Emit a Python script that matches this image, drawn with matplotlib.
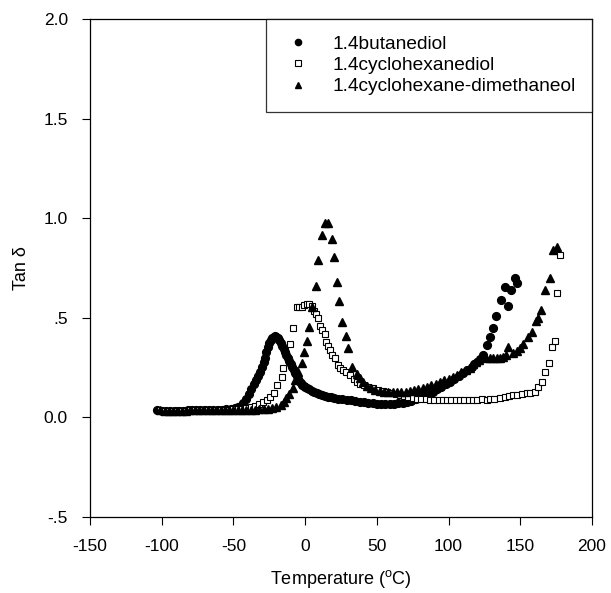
import matplotlib
matplotlib.use("Agg")
import matplotlib.pyplot as plt

plt.rcParams['font.family'] = ['Liberation Sans', 'DejaVu Sans']
plt.rcParams['mathtext.fontset'] = 'custom'
plt.rcParams['mathtext.rm'] = 'Liberation Sans'
plt.rcParams['axes.unicode_minus'] = False

# 1.4butanediol (filled circles)
butane_t = [-103, -100, -97, -94, -91, -88, -85, -82, -79, -76, -73, -70, -67, -64, -61,
            -58, -55, -52, -49, -47, -45, -43, -41, -39, -37.5, -36, -34.5, -33, -31.5,
            -30, -29, -28, -27, -26, -25, -24, -23, -22, -21, -20, -19, -18, -17, -16,
            -15, -14, -13, -12, -11, -10, -9, -8, -7, -6, -5, -4, -3, -2, -1, 0, 1.5, 3,
            4.5, 6, 8, 10, 12, 14, 16, 18, 20, 23, 26, 29, 32, 35, 38, 41, 44, 47, 50,
            53, 56, 59, 62, 65, 68, 71, 74, 77, 80, 83, 86, 89, 92, 95, 98, 101, 104,
            107, 110, 113, 116, 118, 120, 122, 124, 126.8, 128.6, 131, 133.3, 136.8,
            139.2, 141.4, 143.8, 146.3, 147.5]
butane_tan = [0.037, 0.033, 0.031, 0.031, 0.032, 0.033, 0.034, 0.035, 0.036, 0.037, 0.038,
              0.038, 0.037, 0.037, 0.038, 0.039, 0.040, 0.042, 0.045, 0.050, 0.058, 0.070,
              0.090, 0.115, 0.145, 0.170, 0.190, 0.210, 0.230, 0.255, 0.280, 0.300, 0.330,
              0.355, 0.375, 0.390, 0.400, 0.405, 0.410, 0.405, 0.400, 0.390, 0.375, 0.360,
              0.345, 0.330, 0.315, 0.300, 0.285, 0.270, 0.255, 0.240, 0.225, 0.210, 0.195,
              0.185, 0.175, 0.165, 0.160, 0.155, 0.148, 0.142, 0.135, 0.130, 0.123, 0.117,
              0.112, 0.107, 0.103, 0.100, 0.097, 0.094, 0.091, 0.088, 0.085, 0.082, 0.079,
              0.076, 0.073, 0.071, 0.069, 0.068, 0.067, 0.067, 0.068, 0.070, 0.073, 0.078,
              0.084, 0.092, 0.100, 0.110, 0.120, 0.130, 0.142, 0.155, 0.168, 0.180, 0.195,
              0.210, 0.225, 0.240, 0.255, 0.268, 0.280, 0.295, 0.315, 0.363, 0.405, 0.450,
              0.509, 0.589, 0.653, 0.559, 0.640, 0.698, 0.677]

# 1.4cyclohexanediol (open squares)
hexdiol_t = [-101, -98, -95, -92, -89, -86, -83, -80, -77, -74, -71, -68, -65, -62, -59,
             -56, -53, -50, -47, -44, -41, -38, -35, -32, -29.5, -26.8, -24.5, -22, -19.9,
             -16.4, -15.2, -10.6, -8.3, -6, -4, -2.5, -1, 1, 2.5, 4.6, 6.2, 7.5, 9.2, 10.3,
             12, 13.8, 14.5, 16, 17.3, 19, 20.8, 23, 24.5, 26.5, 28.5, 31.2, 34, 36, 38.2,
             41, 44, 47.5, 51, 54, 57, 60, 63, 66, 69, 72, 75, 78, 81, 84, 87, 90, 93, 96,
             99, 102, 105, 108, 111, 114, 117, 120, 123, 126.5, 129, 132, 135.8, 139, 142,
             145, 148, 151, 154.4, 157, 160.2, 162.6, 164.9, 167.2, 170.2, 171.9, 174.2,
             175.8, 177.7]
hexdiol_tan = [0.035, 0.032, 0.031, 0.031, 0.032, 0.033, 0.034, 0.035, 0.036, 0.036, 0.036,
               0.036, 0.036, 0.037, 0.037, 0.038, 0.039, 0.040, 0.041, 0.043, 0.046, 0.050,
               0.055, 0.065, 0.077, 0.087, 0.100, 0.120, 0.163, 0.205, 0.250, 0.370, 0.447,
               0.553, 0.556, 0.556, 0.565, 0.570, 0.570, 0.560, 0.535, 0.520, 0.500, 0.460,
               0.440, 0.418, 0.380, 0.360, 0.338, 0.315, 0.296, 0.263, 0.250, 0.238, 0.228,
               0.213, 0.195, 0.180, 0.170, 0.162, 0.155, 0.146, 0.140, 0.134, 0.128, 0.122,
               0.116, 0.110, 0.105, 0.100, 0.097, 0.094, 0.092, 0.090, 0.088, 0.087, 0.087,
               0.087, 0.087, 0.087, 0.087, 0.087, 0.087, 0.087, 0.087, 0.088, 0.090, 0.087,
               0.090, 0.093, 0.096, 0.100, 0.105, 0.112, 0.112, 0.115, 0.120, 0.125, 0.129,
               0.154, 0.180, 0.230, 0.272, 0.355, 0.384, 0.626, 0.815]

# 1.4cyclohexane-dimethaneol (filled triangles)
dimeth_t = [-101, -98, -95, -92, -89, -86, -83, -80, -77, -74, -71, -68, -65, -62, -59,
            -56, -53, -50, -47, -44, -41, -38, -35, -32, -29, -26, -23, -20, -17, -15,
            -13, -11, -8.7, -7, -5, -2.5, -0.9, 1.5, 2.8, 4.5, 7.3, 9.2, 12.1, 13.8, 15.6,
            18.4, 20.2, 22.4, 23.8, 26, 28.4, 30, 32.4, 35.9, 38, 40, 43, 46, 49, 52, 55,
            58, 61, 64, 67, 70, 73, 76, 79, 82, 85, 88, 91, 94, 97, 100, 103, 106, 109,
            112, 115, 117, 119, 121, 124.1, 126, 128.8, 131, 133.5, 136, 138, 140, 141.6,
            145, 147.5, 149.8, 152, 155.6, 157.9, 160.9, 162.5, 164.2, 167.2, 170.7, 172.5,
            175.3]
dimeth_tan = [0.035, 0.032, 0.031, 0.031, 0.032, 0.033, 0.034, 0.035, 0.035, 0.036, 0.036,
              0.036, 0.036, 0.036, 0.036, 0.036, 0.036, 0.037, 0.037, 0.037, 0.038, 0.038,
              0.039, 0.040, 0.041, 0.043, 0.046, 0.052, 0.062, 0.075, 0.095, 0.118, 0.150,
              0.190, 0.230, 0.275, 0.330, 0.385, 0.455, 0.556, 0.660, 0.790, 0.916, 0.974,
              0.974, 0.896, 0.803, 0.680, 0.586, 0.480, 0.410, 0.347, 0.255, 0.220, 0.200,
              0.180, 0.160, 0.150, 0.140, 0.135, 0.130, 0.128, 0.127, 0.127, 0.128, 0.130,
              0.133, 0.137, 0.142, 0.148, 0.155, 0.162, 0.170, 0.178, 0.186, 0.195, 0.205,
              0.215, 0.228, 0.240, 0.250, 0.270, 0.280, 0.290, 0.305, 0.300, 0.296, 0.296,
              0.296, 0.300, 0.305, 0.315, 0.355, 0.322, 0.335, 0.347, 0.370, 0.405, 0.430,
              0.485, 0.500, 0.539, 0.640, 0.698, 0.840, 0.854]

x_ticks = [-150, -100, -50, 0, 50, 100, 150, 200]
y_ticks = [-0.5, 0.0, 0.5, 1.0, 1.5, 2.0]
y_tick_labels = ['-.5', '0.0', '.5', '1.0', '1.5', '2.0']

fig = plt.figure(figsize=(6.11, 5.93), dpi=100, facecolor='white')
ax = fig.add_axes([90 / 611, 1 - 517 / 593, 502 / 611, 498 / 593])

ax.plot(butane_t, butane_tan, 'o', color='black', markersize=5.6, linestyle='none',
        label='1.4butanediol')
ax.plot(hexdiol_t, hexdiol_tan, 's', markerfacecolor='white', markeredgecolor='black',
        markeredgewidth=0.8, markersize=5.0, linestyle='none', label='1.4cyclohexanediol')
ax.plot(dimeth_t, dimeth_tan, '^', color='black', markersize=5.6, linestyle='none',
        label='1.4cyclohexane-dimethaneol')

ax.set_xlim(-150, 200)
ax.set_ylim(-0.5, 2.0)
ax.set_xticks(x_ticks)
ax.set_yticks(y_ticks)
ax.set_yticklabels(y_tick_labels)
ax.tick_params(direction='out', length=6, width=0.8, labelsize=12.5, pad=10)

for sp in ax.spines.values():
    sp.set_linewidth(0.9)

ax.set_xlabel('Temperature ($^{\\rm o}$C)', fontsize=13, labelpad=10)
ax.set_ylabel('Tan δ', fontsize=13, labelpad=10)

leg = ax.legend(loc='upper right', bbox_to_anchor=(1.0, 1.0), borderaxespad=0,
                fontsize=13.8, frameon=True, fancybox=False, edgecolor='black',
                handlelength=1.6, handletextpad=1.0, borderpad=0.85, labelspacing=0.2,
                markerscale=0.8)
leg.get_frame().set_linewidth(0.9)

fig.savefig('out.png', dpi=100)
